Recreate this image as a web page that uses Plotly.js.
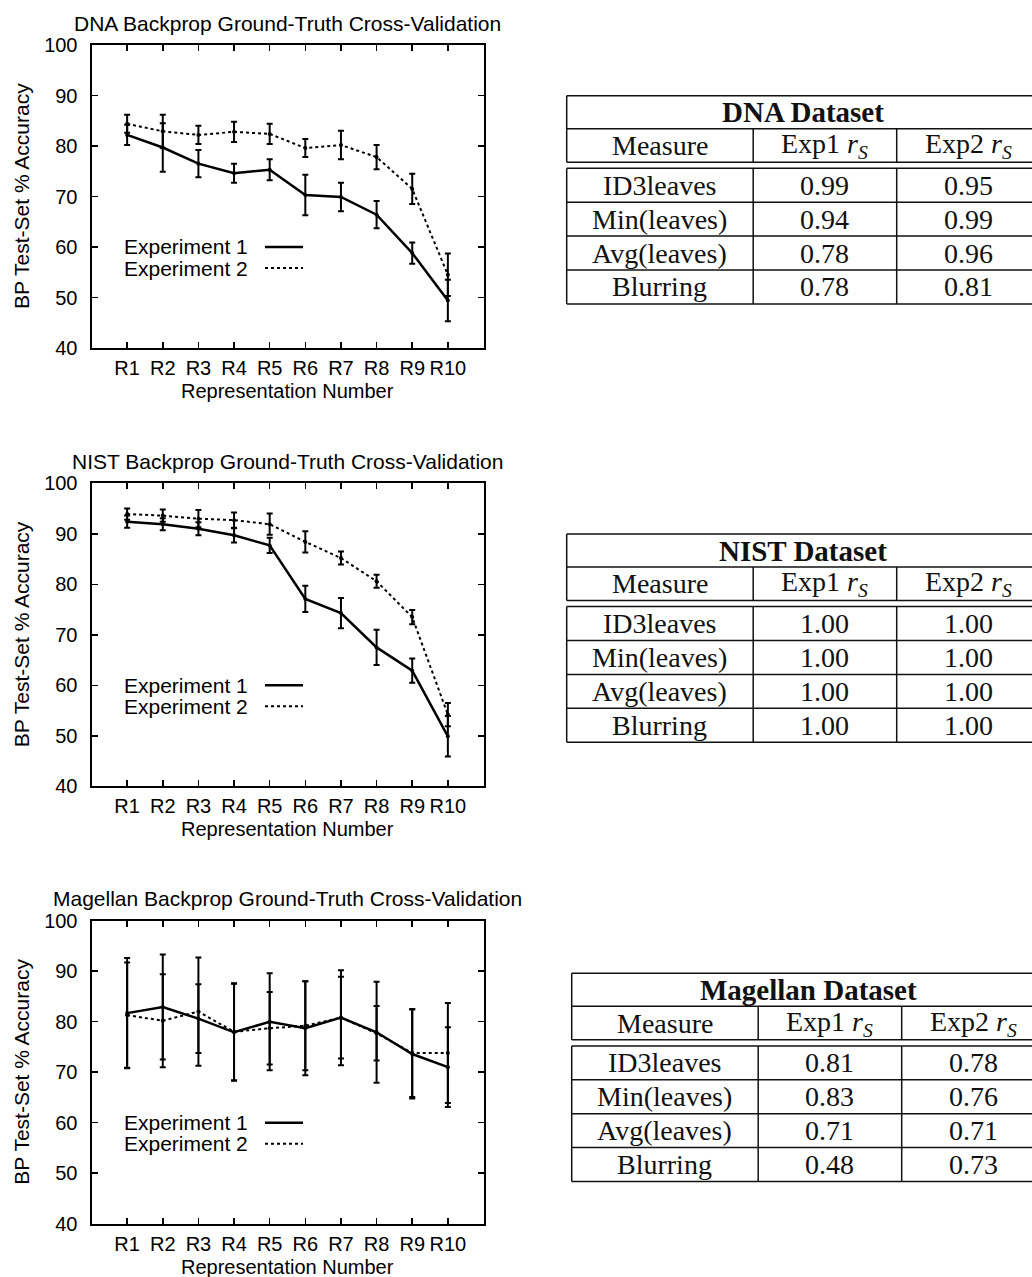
<!DOCTYPE html>
<html>
<head>
<meta charset="utf-8">
<script src="https://cdn.plot.ly/plotly-3.0.1.min.js"></script>
<style>
  html, body { margin: 0; padding: 0; background: #fff; }
  #chart { width: 1032px; height: 1277px; }
</style>
</head>
<body>
<div id="chart"></div>
<script>
// ---------------- DATA ----------------
const reps = ['R1', 'R2', 'R3', 'R4', 'R5', 'R6', 'R7', 'R8', 'R9', 'R10'];

const chartTitles = [
  'DNA Backprop Ground-Truth Cross-Validation',
  'NIST Backprop Ground-Truth Cross-Validation',
  'Magellan Backprop Ground-Truth Cross-Validation'
];
const xTitle = 'Representation Number';
const yTitle = 'BP Test-Set % Accuracy';
const seriesNames = ['Experiment 1', 'Experiment 2'];

const dnaExp1 = [82.2, 79.7, 76.5, 74.6, 75.3, 70.3, 69.9, 66.4, 58.8, 49.4];
const dnaExp1Err = [2.0, 4.8, 2.7, 1.9, 2.1, 4.0, 2.8, 2.7, 2.1, 4.1];
const dnaExp2 = [84.4, 82.9, 82.2, 82.8, 82.4, 79.6, 80.2, 77.8, 71.5, 54.5];
const dnaExp2Err = [1.8, 3.3, 1.8, 2.0, 2.0, 1.8, 2.8, 2.4, 3.0, 4.2];

const nistExp1 = [92.4, 91.9, 91.0, 89.7, 87.7, 77.1, 74.3, 67.5, 62.9, 49.9];
const nistExp1Err = [1.2, 1.2, 1.3, 1.4, 1.5, 2.6, 3.0, 3.5, 2.4, 4.0];
const nistExp2 = [93.9, 93.6, 93.0, 92.7, 91.9, 88.4, 85.2, 80.6, 73.5, 54.2];
const nistExp2Err = [1.1, 1.2, 1.7, 1.5, 2.1, 2.1, 1.3, 1.3, 1.4, 2.3];

const magExp1 = [81.7, 82.9, 80.6, 77.9, 80.0, 78.7, 80.8, 77.9, 73.6, 71.0];
const magExp1Err = [10.9, 10.4, 6.8, 9.6, 9.6, 9.3, 9.4, 10.0, 8.8, 7.9];
const magExp2 = [81.3, 80.2, 82.0, 78.0, 78.7, 79.2, 80.8, 77.7, 73.8, 73.8];
const magExp2Err = [10.4, 9.2, 10.7, 9.6, 7.2, 8.8, 8.1, 5.4, 8.7, 9.9];

// tables
const tableTitles = ['DNA Dataset', 'NIST Dataset', 'Magellan Dataset'];
const tableHeaders = ['Measure', 'Exp1 <i>r</i><sub><i>S</i></sub>', 'Exp2 <i>r</i><sub><i>S</i></sub>'];
const measures = ['ID3leaves', 'Min(leaves)', 'Avg(leaves)', 'Blurring'];
const dnaExp1Rs = [0.99, 0.94, 0.78, 0.78];
const dnaExp2Rs = [0.95, 0.99, 0.96, 0.81];
const nistExp1Rs = [1.00, 1.00, 1.00, 1.00];
const nistExp2Rs = [1.00, 1.00, 1.00, 1.00];
const magExp1Rs = [0.81, 0.83, 0.71, 0.48];
const magExp2Rs = [0.78, 0.76, 0.71, 0.73];

// ---------------- LAYOUT GEOMETRY ----------------
const W = 1032, H = 1277;
const fx = x => x / W;
const fy = y => 1 - y / H;

const plotLeft = 91.5, plotW = 392, plotH = 303;
const plotTops = [45, 483.3, 920.7];

const tableTops = [95.7, 534, 973.3];
const tableLefts = [566.7, 566.7, 571.7];
const tableW = 473;
const colOff = [0, 186.5, 330];
const rowOff = { titleB: 33, headB: 66.5, bodyT: 72.6, rowH: 33.9 };

const sansFont = 'Liberation Sans, Arial, Helvetica, sans-serif';
const serifFont = 'Liberation Serif, Times New Roman, serif';

const datasets = [
  [dnaExp1, dnaExp1Err, dnaExp2, dnaExp2Err],
  [nistExp1, nistExp1Err, nistExp2, nistExp2Err],
  [magExp1, magExp1Err, magExp2, magExp2Err]
];
const tableData = [
  [dnaExp1Rs, dnaExp2Rs],
  [nistExp1Rs, nistExp2Rs],
  [magExp1Rs, magExp2Rs]
];

const traces = [];
const layout = {
  width: W, height: H,
  margin: { l: 0, r: 0, t: 0, b: 0 },
  paper_bgcolor: '#ffffff',
  plot_bgcolor: '#ffffff',
  showlegend: false,
  font: { family: sansFont, color: '#000' },
  annotations: [],
  shapes: []
};

datasets.forEach((ds, i) => {
  const suf = i === 0 ? '' : String(i + 1);
  const xa = 'x' + suf, ya = 'y' + suf;
  const top = plotTops[i];

  layout['xaxis' + suf] = {
    domain: [fx(plotLeft), fx(plotLeft + plotW)],
    anchor: ya,
    type: 'category',
    categoryorder: 'array',
    categoryarray: reps,
    range: [-1, 10],
    showline: true, linecolor: '#000', linewidth: 2,
    mirror: 'ticks',
    ticks: 'inside', ticklen: 6, tickwidth: 1.5, tickcolor: '#000',
    ticklabelstandoff: 1,
    tickfont: { family: sansFont, size: 20, color: '#000' },
    showgrid: false, zeroline: false, fixedrange: true
  };
  layout['yaxis' + suf] = {
    domain: [fy(top + plotH), fy(top)],
    anchor: xa,
    range: [40, 100],
    tick0: 0, dtick: 10,
    showline: true, linecolor: '#000', linewidth: 2,
    mirror: 'ticks',
    ticks: 'inside', ticklen: 6, tickwidth: 1.5, tickcolor: '#000',
    ticklabelstandoff: 8,
    tickfont: { family: sansFont, size: 20, color: '#000' },
    showgrid: false, zeroline: false, fixedrange: true
  };

  const [e1, e1err, e2, e2err] = ds;
  traces.push({
    type: 'scatter', mode: 'lines+markers', x: reps, y: e1,
    xaxis: xa, yaxis: ya, name: seriesNames[0],
    line: { color: '#000', width: 2.5 },
    marker: { color: '#000', size: 4 },
    error_y: { type: 'data', array: e1err, visible: true, color: '#000', thickness: 2, width: 3 }
  });
  traces.push({
    type: 'scatter', mode: 'lines+markers', x: reps, y: e2,
    xaxis: xa, yaxis: ya, name: seriesNames[1],
    line: { color: '#000', width: 2, dash: 'dot' },
    marker: { color: '#000', size: 4 },
    error_y: { type: 'data', array: e2err, visible: true, color: '#000', thickness: 2, width: 3 }
  });

  const xd = xa + ' domain', yd = ya + ' domain';
  // chart title
  layout.annotations.push({
    xref: xd, yref: yd, x: 0.5, y: 1, yshift: 22,
    xanchor: 'center', yanchor: 'middle', showarrow: false,
    text: chartTitles[i], font: { family: sansFont, size: 21, color: '#000' }
  });
  // x title
  layout.annotations.push({
    xref: xd, yref: yd, x: 0.5, y: 0, yshift: -43,
    xanchor: 'center', yanchor: 'middle', showarrow: false,
    text: xTitle, font: { family: sansFont, size: 20, color: '#000' }
  });
  // y title
  layout.annotations.push({
    xref: xd, yref: yd, x: 0, xshift: -70, y: 0.5,
    xanchor: 'center', yanchor: 'middle', showarrow: false, textangle: -90,
    text: yTitle, font: { family: sansFont, size: 21, color: '#000' }
  });
  // legend (gnuplot style: text then sample)
  const legY = [1 - 202 / plotH, 1 - 223 / plotH];
  seriesNames.forEach((nm, k) => {
    layout.annotations.push({
      xref: xd, yref: yd, x: (250 - plotLeft) / plotW, y: legY[k],
      xanchor: 'right', yanchor: 'middle', showarrow: false,
      text: nm, font: { family: sansFont, size: 21, color: '#000' }
    });
    layout.shapes.push({
      type: 'line', xref: xd, yref: yd,
      x0: (265 - plotLeft) / plotW, x1: (303 - plotLeft) / plotW,
      y0: legY[k], y1: legY[k],
      line: { color: '#000', width: k === 0 ? 2.5 : 2, dash: k === 0 ? 'solid' : 'dot' }
    });
  });
});

// ---------------- TABLES ----------------
function hline(x0, x1, y, w) {
  layout.shapes.push({ type: 'line', xref: 'paper', yref: 'paper',
    x0: fx(x0), x1: fx(x1), y0: fy(y), y1: fy(y), line: { color: '#111', width: w || 1.5 } });
}
function vline(x, y0, y1, w) {
  layout.shapes.push({ type: 'line', xref: 'paper', yref: 'paper',
    x0: fx(x), x1: fx(x), y0: fy(y0), y1: fy(y1), line: { color: '#111', width: w || 1.5 } });
}
function cellText(txt, xc, yc, bold) {
  layout.annotations.push({
    xref: 'paper', yref: 'paper', x: fx(xc), y: fy(yc),
    xanchor: 'center', yanchor: 'middle', showarrow: false,
    text: bold ? '<b>' + txt + '</b>' : txt,
    font: { family: serifFont, size: bold ? 29 : 28, color: '#111' }
  });
}

tableTitles.forEach((tt, i) => {
  const top = tableTops[i], left = tableLefts[i], right = left + tableW;
  const tB = top + rowOff.titleB, hB = top + rowOff.headB, bT = top + rowOff.bodyT;
  const rowsB = measures.map((m, r) => bT + rowOff.rowH * (r + 1));
  const bottom = rowsB[rowsB.length - 1];
  const cols = colOff.map(c => left + c).concat([right]);

  // header block
  hline(left, right, top); hline(left, right, tB); hline(left, right, hB);
  vline(left, top, hB); vline(right, top, hB);
  vline(cols[1], tB, hB); vline(cols[2], tB, hB);
  // body block
  hline(left, right, bT);
  rowsB.forEach(y => hline(left, right, y));
  vline(left, bT, bottom); vline(right, bT, bottom);
  vline(cols[1], bT, bottom); vline(cols[2], bT, bottom);

  cellText(tt, (left + right) / 2, (top + tB) / 2, true);
  tableHeaders.forEach((h, c) => cellText(h, (cols[c] + cols[c + 1]) / 2, (tB + hB) / 2, false));
  const [v1, v2] = tableData[i];
  measures.forEach((m, r) => {
    const y0 = r === 0 ? bT : rowsB[r - 1];
    const yc = (y0 + rowsB[r]) / 2;
    cellText(m, (cols[0] + cols[1]) / 2, yc, false);
    cellText(v1[r].toFixed(2), (cols[1] + cols[2]) / 2, yc, false);
    cellText(v2[r].toFixed(2), (cols[2] + cols[3]) / 2, yc, false);
  });
});

Plotly.newPlot('chart', traces, layout, { staticPlot: true, displayModeBar: false });
</script>
</body>
</html>
